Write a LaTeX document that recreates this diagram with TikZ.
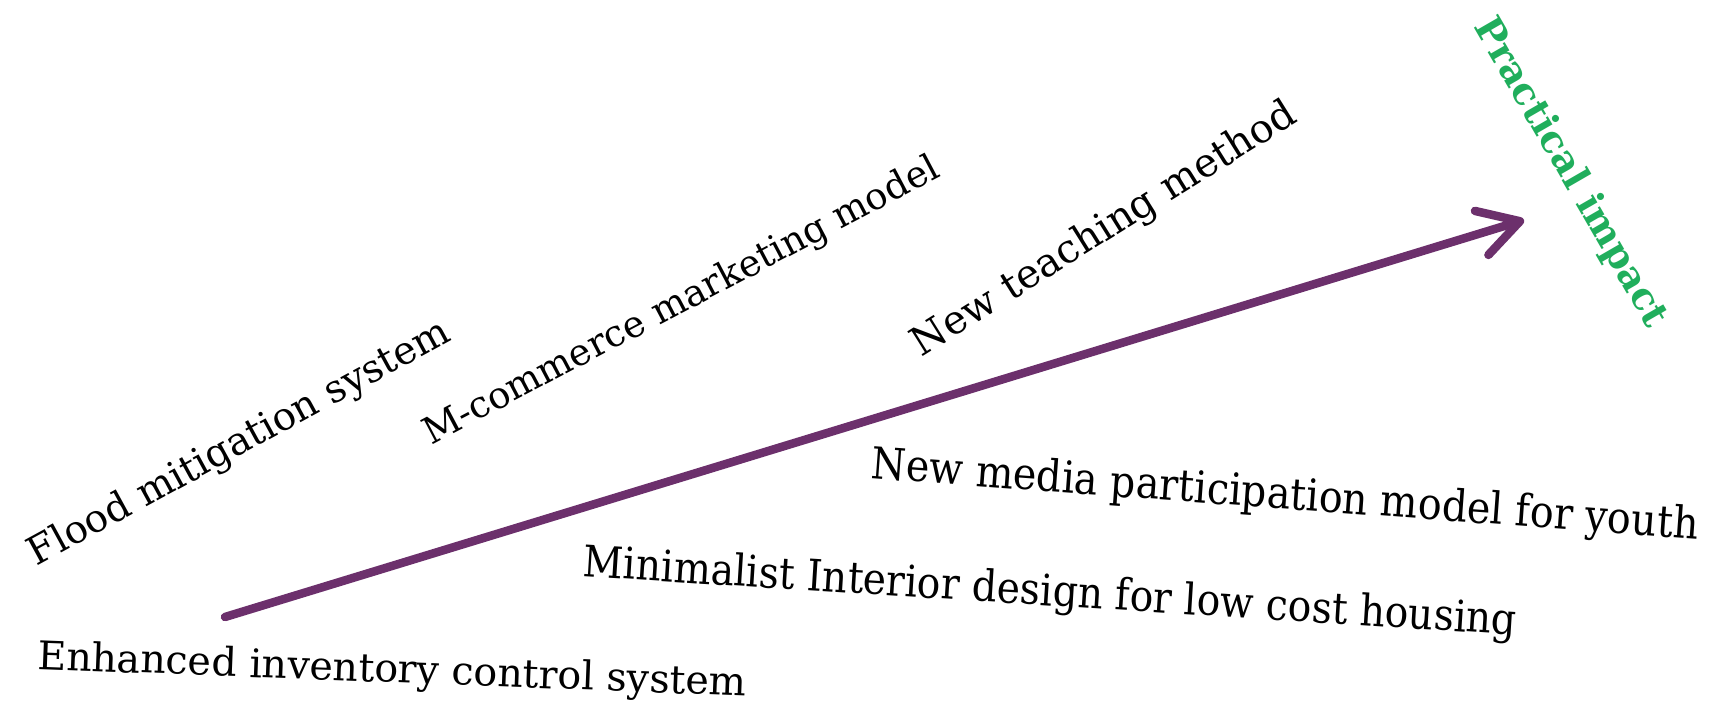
\documentclass[tikz,border=0pt]{standalone}
\usepackage{fontspec}
\setmainfont{DejaVu Serif}
\newfontfamily\condfont{DejaVu Serif Condensed}
\usetikzlibrary{arrows.meta}
\definecolor{arrowpurple}{RGB}{108,48,108}
\definecolor{impactgreen}{RGB}{32,174,92}
\tikzset{
  lbl/.style={inner sep=0pt, text=black},
  impact/.style={inner sep=0pt, font=\bfseries\fontsize{38}{44}\selectfont, text=impactgreen},
  mainarrow/.style={draw=arrowpurple, line width=8.5pt, line cap=round,
    -{Straight Barb[length=40pt,width=46pt,round]}}
}
\newcommand{\fs}[1]{\fontsize{#1}{#1}\selectfont}
\begin{document}
\begin{tikzpicture}[x=1pt,y=-1pt]
\useasboundingbox (0,0) rectangle (1719,709);
\coordinate (s) at (225,617);
\coordinate (e) at (1524,220);
\draw[mainarrow] (s) -- (e);
\node[lbl, rotate=-2.2, font=\fs{39.5}] (enh) at (392,672) {Enhanced inventory control system};
\node[lbl, rotate=-3.6, font=\condfont\fs{43.5}] (min) at (1050,594) {Minimalist Interior design for low cost housing};
\node[lbl, rotate=-4.2, font=\condfont\fs{44}] (med) at (1285,497) {New media participation model for youth};
\node[lbl, rotate=28.6, font=\fs{38.8}] (flood) at (240,444) {Flood mitigation system};
\node[lbl, rotate=27.8, font=\fs{37}] (mcom) at (682,302) {M-commerce marketing model};
\node[lbl, rotate=32, font=\fs{39.8}] (teach) at (1105,230) {New teaching method};
\node[impact, rotate=-60] (imp) at (1570,173) {Practical impact};
\end{tikzpicture}
\end{document}
